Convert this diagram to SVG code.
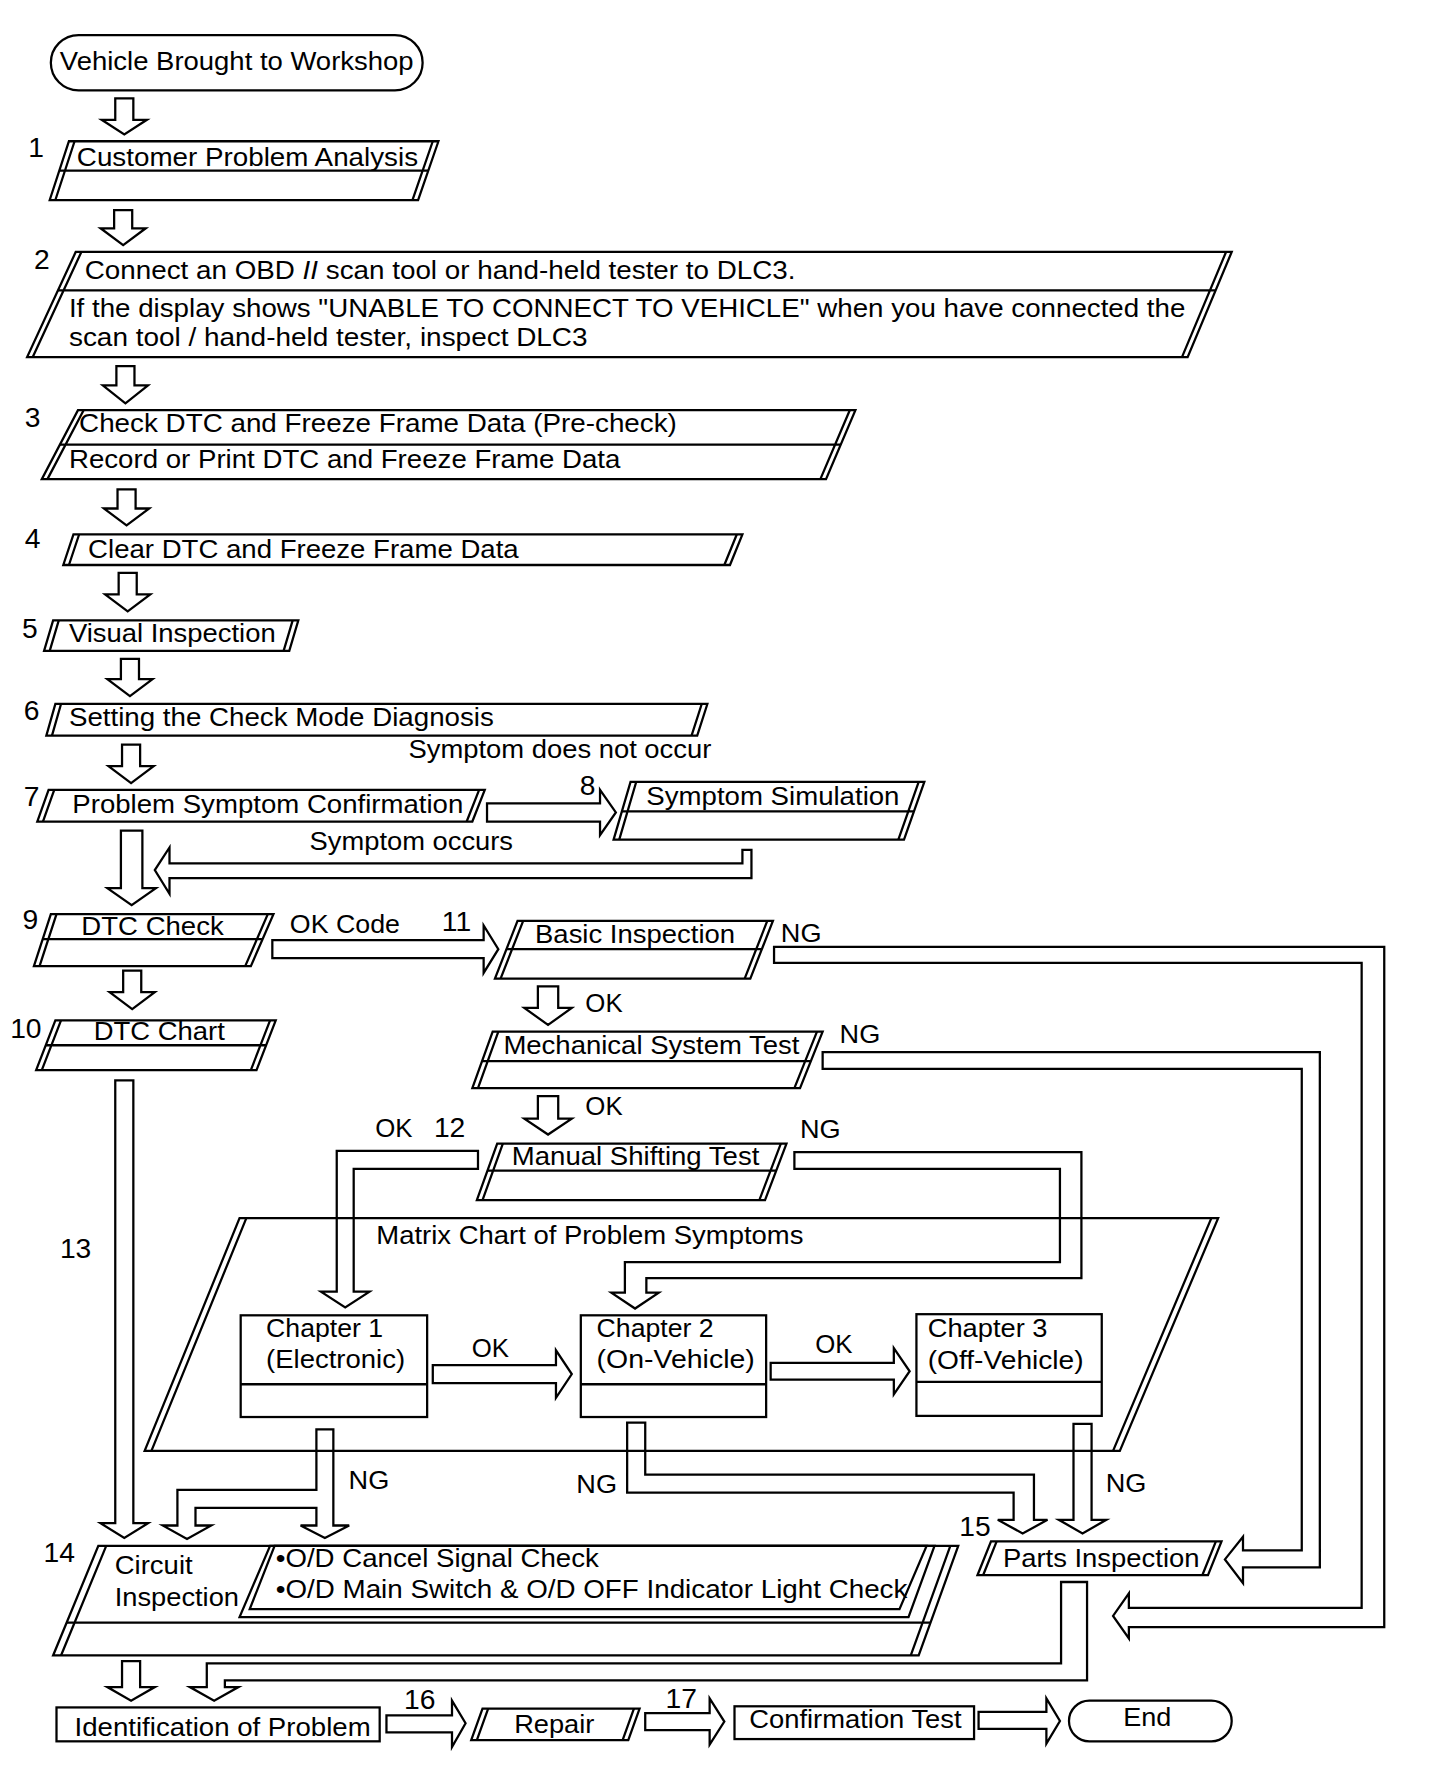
<svg xmlns="http://www.w3.org/2000/svg" width="1440" height="1770" viewBox="0 0 1440 1770">
<style>
.s{fill:none;stroke:#000;stroke-width:2;stroke-linejoin:miter}
.t{font-family:"Liberation Sans",Arial,Helvetica,sans-serif;font-size:22px;fill:#000}
.n{font-family:"Liberation Sans",Arial,Helvetica,sans-serif;font-size:25px;fill:#000}
</style>
<rect width="1440" height="1770" fill="#fff"/>
<g transform="scale(1.13)">
<g id="connectors" class="s">
<path d="M102,87 H118 V106 H130 L110,119 L90,106 H102 Z"/>
<path d="M101,186 H117 V202 H129 L109,217 L89,202 H101 Z"/>
<path d="M103,324 H119 V341 H131 L111,357 L91,341 H103 Z"/>
<path d="M104,433 H120 V450 H132 L112,465 L92,450 H104 Z"/>
<path d="M105,507 H121 V526 H133 L113,541 L93,526 H105 Z"/>
<path d="M107,583 H123 V601 H135 L115,616 L95,601 H107 Z"/>
<path d="M108,659 H124 V678 H136 L116,693 L96,678 H108 Z"/>
<path d="M431,711 H531 V699 L545,719 L531,739 V727 H431 Z"/>
<path d="M657,752 H665 V777 H150 V791 L137,770 L150,750 V764 H657 Z"/>
<path d="M107,735 H126 V786 H138 L116.5,801 L95,786 H107 Z"/>
<path d="M241,832 H428 V819 L441,840 L428,861 V848 H241 Z"/>
<path d="M109,859 H125 V878 H137 L117,893 L97,878 H109 Z"/>
<path d="M476,873 H494 V892 H506 L485,907 L464,892 H476 Z"/>
<path d="M476,970 H494 V990 H506 L485,1004 L464,990 H476 Z"/>
<path d="M685,838 H1225 V1440 H999 V1450 L985,1430 L999,1410 V1423 H1205 V852 H685 Z"/>
<path d="M728,931 H1168 V1387 H1100 V1401 L1084,1380 L1100,1360 V1372 H1152 V946 H728 Z"/>
<path d="M703,1019.5 H957 V1131 H572 V1144 H583 L562,1158 L541,1144 H553 V1117 H938 V1034.5 H703 Z"/>
<path d="M423,1018.5 H298 V1143 H284 L305.5,1157 L327,1143 H313 V1034.5 H423 Z"/>
<path d="M102,956 H118 V1348 H131 L110,1361 L89,1348 H102 Z"/>
<path d="M383,1208 H492 V1195 L506,1216 L492,1237 V1224 H383 Z"/>
<path d="M682,1206 H791 V1193 L805,1213.5 L791,1234 V1221 H682 Z"/>
<path d="M280,1265 H295 V1350 H309 L287.5,1361 L266,1350 H280 V1334.5 H173 V1350 H187 L165.5,1362 L144,1350 H157 V1318.5 H280 Z"/>
<path d="M555,1259 H571 V1305 H915 V1345 H927 L905,1357 L883,1345 H897 V1321 H555 Z"/>
<path d="M950,1260 H966 V1345 H979 L958,1357 L937,1345 H950 Z"/>
<path d="M939,1400 H962 V1487 H199 V1493 H211 L189.5,1505 L168,1493 H183 V1472 H939 Z"/>
<path d="M108,1470 H124 V1493 H137 L116,1505 L95,1493 H108 Z"/>
<path d="M342,1518 H400 V1505 L412,1525 L400,1546 V1533 H342 Z"/>
<path d="M571,1516 H628 V1503 L641,1523.5 L628,1544 V1531 H571 Z"/>
<path d="M866,1515 H926 V1503 L938,1523 L926,1543 V1530 H866 Z"/>
</g>
<g id="start">
<rect class="s" x="45" y="31" width="329" height="49" rx="24.5"/>
<text class="t" x="53" y="62" textLength="313" lengthAdjust="spacingAndGlyphs">Vehicle Brought to Workshop</text>
</g>
<g id="step1">
<polygon class="s" points="61,125 388,125 370,177 44,177"/>
<path class="s" d="M66,125 L49,177 M383,125 L365,177 M52.5,151 H379"/>
<text class="n" x="25" y="139">1</text>
<text class="t" x="68" y="147" textLength="302" lengthAdjust="spacingAndGlyphs">Customer Problem Analysis</text>
</g>
<g id="step2">
<polygon class="s" points="67,223 1090,223 1051,316 24,316"/>
<path class="s" d="M72,223 L29,316 M1085,223 L1046,316 M51.3,257 H1075.7"/>
<text class="n" x="30" y="238">2</text>
<text class="t" x="75" y="246.5" textLength="629" lengthAdjust="spacingAndGlyphs">Connect an OBD <tspan font-style="italic">II</tspan> scan tool or hand-held tester to DLC3.</text>
<text class="t" x="61" y="280.5" textLength="988" lengthAdjust="spacingAndGlyphs">If the display shows "UNABLE TO CONNECT TO VEHICLE" when you have connected the</text>
<text class="t" x="61" y="306" textLength="459" lengthAdjust="spacingAndGlyphs">scan tool / hand-held tester, inspect DLC3</text>
</g>
<g id="step3">
<polygon class="s" points="69,363 757,363 731,424 37,424"/>
<path class="s" d="M74,363 L42,424 M752,363 L726,424 M53,393.5 H744"/>
<text class="n" x="22" y="378">3</text>
<text class="t" x="70" y="382.5" textLength="529" lengthAdjust="spacingAndGlyphs">Check DTC and Freeze Frame Data (Pre-check)</text>
<text class="t" x="61" y="414" textLength="488" lengthAdjust="spacingAndGlyphs">Record or Print DTC and Freeze Frame Data</text>
</g>
<g id="step4">
<polygon class="s" points="65,473 657,473 646,500 56,500"/>
<path class="s" d="M70,473 L61,500 M652,473 L641,500"/>
<text class="n" x="22" y="485">4</text>
<text class="t" x="78" y="493.5" textLength="381" lengthAdjust="spacingAndGlyphs">Clear DTC and Freeze Frame Data</text>
</g>
<g id="step5">
<polygon class="s" points="47,549 264,549 256,576 39,576"/>
<path class="s" d="M52,549 L44,576 M259,549 L251,576"/>
<text class="n" x="19.5" y="564.5">5</text>
<text class="t" x="61" y="568" textLength="183" lengthAdjust="spacingAndGlyphs">Visual Inspection</text>
</g>
<g id="step6">
<polygon class="s" points="49,623 626,623 617,651 41,651"/>
<path class="s" d="M54,623 L46,651 M621,623 L612,651"/>
<text class="n" x="21" y="637">6</text>
<text class="t" x="61" y="642.5" textLength="376" lengthAdjust="spacingAndGlyphs">Setting the Check Mode Diagnosis</text>
<text class="t" x="361.5" y="671" textLength="268" lengthAdjust="spacingAndGlyphs">Symptom does not occur</text>
</g>
<g id="step7">
<polygon class="s" points="43,699 429,699 418,727 33,727"/>
<path class="s" d="M48,699 L38,727 M424,699 L413,727"/>
<text class="n" x="21" y="713">7</text>
<text class="t" x="64" y="719.5" textLength="346" lengthAdjust="spacingAndGlyphs">Problem Symptom Confirmation</text>
<text class="t" x="274" y="752.5" textLength="180" lengthAdjust="spacingAndGlyphs">Symptom occurs</text>
</g>
<g id="step8">
<polygon class="s" points="558,692 818,692 800,743 543,743"/>
<path class="s" d="M563,692 L548,743 M813,692 L795,743 M550.4,718 H808.8"/>
<text class="n" x="513" y="703.5">8</text>
<text class="t" x="572" y="712" textLength="224" lengthAdjust="spacingAndGlyphs">Symptom Simulation</text>
</g>
<g id="step9">
<polygon class="s" points="45,809 242,809 222,855 30,855"/>
<path class="s" d="M50,809 L35,855 M237,809 L217,855 M37.8,831 H232.4"/>
<text class="n" x="20" y="822">9</text>
<text class="t" x="72" y="827" textLength="126" lengthAdjust="spacingAndGlyphs">DTC Check</text>
<text class="t" x="256.5" y="826" textLength="97.5" lengthAdjust="spacingAndGlyphs">OK Code</text>
</g>
<g id="step10">
<polygon class="s" points="49,903 244,903 227,947 32,947"/>
<path class="s" d="M54,903 L37,947 M239,903 L222,947 M40.5,925 H235.5"/>
<text class="n" x="9" y="918.5">10</text>
<text class="t" x="83" y="920" textLength="116" lengthAdjust="spacingAndGlyphs">DTC Chart</text>
<text class="n" x="53" y="1113">13</text>
</g>
<g id="step11">
<polygon class="s" points="458,815 684,815 664,866 438,866"/>
<path class="s" d="M463,815 L443,866 M679,815 L659,866 M448.2,840 H674.2"/>
<text class="n" x="391" y="824">11</text>
<text class="t" x="473.5" y="834.5" textLength="177" lengthAdjust="spacingAndGlyphs">Basic Inspection</text>
<text class="t" x="691" y="834" textLength="36" lengthAdjust="spacingAndGlyphs">NG</text>
<text class="t" x="518" y="895.5" textLength="33" lengthAdjust="spacingAndGlyphs">OK</text>
</g>
<g id="mechanical">
<polygon class="s" points="436,913 728,913 708,963 418,963"/>
<path class="s" d="M441,913 L423,963 M723,913 L703,963 M426.6,939 H717.6"/>
<text class="t" x="445.5" y="932.5" textLength="262" lengthAdjust="spacingAndGlyphs">Mechanical System Test</text>
<text class="t" x="743" y="923" textLength="36" lengthAdjust="spacingAndGlyphs">NG</text>
<text class="t" x="518" y="986.5" textLength="33" lengthAdjust="spacingAndGlyphs">OK</text>
</g>
<g id="step12">
<polygon class="s" points="440,1012 696,1012 677,1062 422,1062"/>
<path class="s" d="M445,1012 L427,1062 M691,1012 L672,1062 M431.4,1036 H686.9"/>
<text class="t" x="332" y="1006" textLength="33" lengthAdjust="spacingAndGlyphs">OK</text>
<text class="n" x="384" y="1006">12</text>
<text class="t" x="453" y="1031" textLength="219" lengthAdjust="spacingAndGlyphs">Manual Shifting Test</text>
<text class="t" x="708" y="1007" textLength="36" lengthAdjust="spacingAndGlyphs">NG</text>
</g>
<g id="matrix">
<polygon class="s" points="212,1078 1078,1078 991,1284 128,1284"/>
<path class="s" d="M218,1078 L134,1284 M1072,1078 L985,1284"/>
<text class="t" x="333" y="1101" textLength="378" lengthAdjust="spacingAndGlyphs">Matrix Chart of Problem Symptoms</text>
</g>
<g id="chapter1">
<rect class="s" x="213" y="1164" width="165" height="90"/>
<path class="s" d="M213,1225 H378"/>
<text class="t" x="235.5" y="1183" textLength="103.5" lengthAdjust="spacingAndGlyphs">Chapter 1</text>
<text class="t" x="235.5" y="1210.5" textLength="123" lengthAdjust="spacingAndGlyphs">(Electronic)</text>
<text class="t" x="417.5" y="1200.5" textLength="33" lengthAdjust="spacingAndGlyphs">OK</text>
<text class="t" x="308.5" y="1317.5" textLength="36" lengthAdjust="spacingAndGlyphs">NG</text>
</g>
<g id="chapter2">
<rect class="s" x="514" y="1164" width="164" height="90"/>
<path class="s" d="M514,1225 H678"/>
<text class="t" x="528" y="1183" textLength="103.5" lengthAdjust="spacingAndGlyphs">Chapter 2</text>
<text class="t" x="528" y="1210.5" textLength="140" lengthAdjust="spacingAndGlyphs">(On-Vehicle)</text>
<text class="t" x="721.5" y="1197" textLength="33" lengthAdjust="spacingAndGlyphs">OK</text>
<text class="t" x="510" y="1321.5" textLength="36" lengthAdjust="spacingAndGlyphs">NG</text>
</g>
<g id="chapter3">
<rect class="s" x="811" y="1163" width="164" height="90"/>
<path class="s" d="M811,1223 H975"/>
<text class="t" x="821" y="1183" textLength="106" lengthAdjust="spacingAndGlyphs">Chapter 3</text>
<text class="t" x="821" y="1211.5" textLength="138" lengthAdjust="spacingAndGlyphs">(Off-Vehicle)</text>
<text class="t" x="978.5" y="1320" textLength="36" lengthAdjust="spacingAndGlyphs">NG</text>
</g>
<g id="step14">
<polygon class="s" points="87,1368 848,1368 813,1465 47,1465"/>
<path class="s" d="M94,1368 L54,1465 M841,1368 L806,1465 M59,1436 H823.5"/>
<polygon class="s" points="243,1368 820,1368 796,1424 221,1424"/>
<polygon class="s" points="239,1368 827,1368 804,1431 212,1431"/>
<text class="n" x="38.5" y="1382">14</text>
<text class="t" x="101.5" y="1393" textLength="69" lengthAdjust="spacingAndGlyphs">Circuit</text>
<text class="t" x="101.5" y="1421" textLength="110" lengthAdjust="spacingAndGlyphs">Inspection</text>
<text class="t" x="244" y="1387" textLength="286" lengthAdjust="spacingAndGlyphs">•O/D Cancel Signal Check</text>
<text class="t" x="244" y="1414.5" textLength="559" lengthAdjust="spacingAndGlyphs">•O/D Main Switch &amp; O/D OFF Indicator Light Check</text>
</g>
<g id="step15">
<polygon class="s" points="877,1364 1081,1364 1069,1394 865,1394"/>
<path class="s" d="M882,1364 L870,1394 M1076,1364 L1064,1394"/>
<text class="n" x="849" y="1359">15</text>
<text class="t" x="887.5" y="1386.5" textLength="174" lengthAdjust="spacingAndGlyphs">Parts Inspection</text>
</g>
<g id="identification">
<rect class="s" x="50" y="1511" width="286" height="30"/>
<text class="t" x="66" y="1536" textLength="262" lengthAdjust="spacingAndGlyphs">Identification of Problem</text>
<text class="n" x="357.5" y="1512.5">16</text>
</g>
<g id="repair">
<polygon class="s" points="427,1512 566,1512 556,1540 417,1540"/>
<path class="s" d="M432,1512 L422,1540 M561,1512 L551,1540"/>
<text class="t" x="455" y="1533.5" textLength="71" lengthAdjust="spacingAndGlyphs">Repair</text>
<text class="n" x="589" y="1511.5">17</text>
</g>
<g id="confirmation">
<rect class="s" x="650" y="1510" width="212" height="29"/>
<text class="t" x="663" y="1529.5" textLength="188" lengthAdjust="spacingAndGlyphs">Confirmation Test</text>
</g>
<g id="end">
<rect class="s" x="946" y="1505" width="144" height="36" rx="18"/>
<text class="t" x="994" y="1527.5" textLength="42.5" lengthAdjust="spacingAndGlyphs">End</text>
</g>
</g>
</svg>
